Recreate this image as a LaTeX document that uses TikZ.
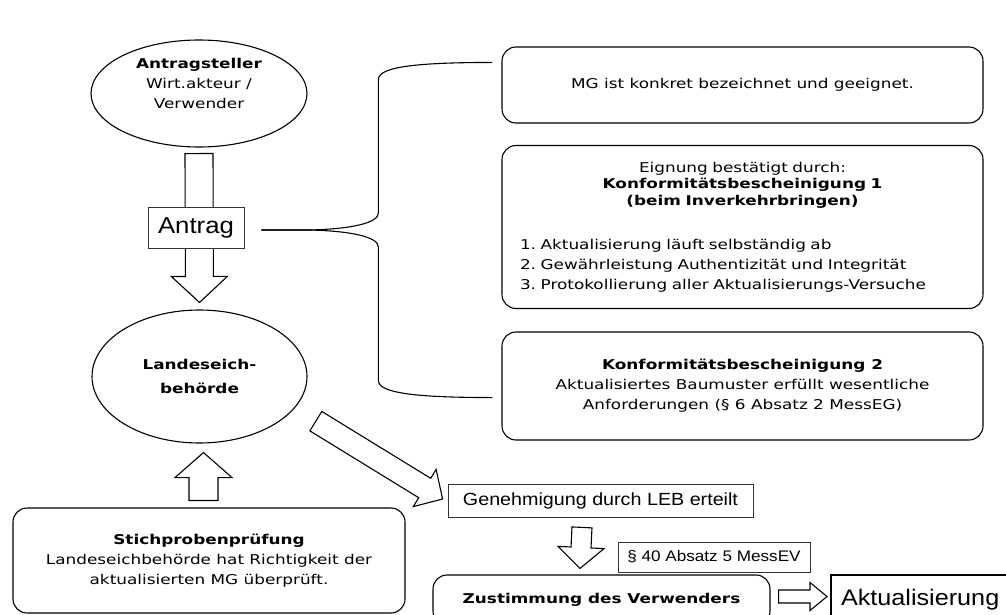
\documentclass[tikz,border=0pt]{standalone}
\usepackage{fontspec}
\setmainfont{DejaVu Sans}[FakeStretch=1.25]
\newfontfamily\arialfont{Liberation Sans}[FakeStretch=1.12]
\usetikzlibrary{calc,shapes.geometric}
\setlength{\parindent}{0pt}
\newcommand{\hollowarrow}[5]{%
	\coordinate (ha) at ($(#2)!#5!(#1)$);
	\draw [blockarrow] ($(#1)!#3!90:(#2)$) -- ($(ha)!#3!90:(#2)$) -- ($(ha)!#4!90:(#2)$) -- (#2)
		-- ($(ha)!#4!-90:(#2)$) -- ($(ha)!#3!-90:(#2)$) -- ($(#1)!#3!-90:(#2)$) -- cycle;
}
\begin{document}
\begin{tikzpicture}[x=1pt,y=-1pt,
	every node/.style={font=\fontsize{13.5}{20}\selectfont},
	bubble/.style={ellipse,draw,line width=1.1pt,inner sep=0pt,align=center},
	roundbox/.style={draw,rounded corners=14pt,line width=1.1pt,minimum width=481pt},
	plainbox/.style={draw=black!80,line width=0.8pt,font=\arialfont\fontsize{17.6}{20}\selectfont},
	blockarrow/.style={draw,line width=1.1pt,fill=white,line join=miter},
	brace/.style={line width=1.1pt}]
	\useasboundingbox (0,0) rectangle (1006,615);
	\node [bubble,minimum width=216pt,minimum height=107pt] (steller) at (199,93.5) {\textbf{Antragsteller}\\Wirt.akteur /\\Verwender\\~};
	\node [bubble,minimum width=215pt,minimum height=133pt,font=\bfseries\fontsize{13.5}{24}\selectfont] (behoerde) at (199.5,376.5) {Landeseich-\\behörde};
	\node [roundbox,minimum height=76pt] (mgbox) at (742.5,85) {MG ist konkret bezeichnet und geeignet.};
	\node [roundbox,minimum height=163pt,text width=445pt,inner xsep=18pt,align=left] (kb1box) at (742.5,227) {{\centering\fontsize{13.5}{16.5}\selectfont Eignung bestätigt durch:\\\textbf{Konformitätsbescheinigung 1}\\\textbf{(beim Inverkehrbringen)}\par}\vspace{24pt}1.\ Aktualisierung läuft selbständig ab\\2.\ Gewährleistung Authentizität und Integrität\\3.\ Protokollierung aller Aktualisierungs-Versuche};
	\node [roundbox,minimum height=108pt,align=center] (kb2box) at (742.5,386) {\textbf{Konformitätsbescheinigung 2}\\Aktualisiertes Baumuster erfüllt wesentliche\\Anforderungen (§ 6 Absatz 2 MessEG)};
	\node [roundbox,minimum width=392pt,minimum height=105pt,align=center] (stich) at (209,560.5) {\textbf{Stichprobenprüfung}\\Landeseichbehörde hat Richtigkeit der\\aktualisierten MG überprüft.};
	\node [plainbox,minimum width=305pt,minimum height=33pt] (geneh) at (600.5,500.5) {Genehmigung durch LEB erteilt};
	\node [plainbox,minimum width=192pt,minimum height=30pt,font=\arialfont\fontsize{15.3}{18}\selectfont] (para) at (714,557) {§ 40 Absatz 5 MessEV};
	\node [roundbox,minimum width=337pt,minimum height=50pt,font=\bfseries\fontsize{13.5}{20}\selectfont] (zust) at (601.5,600) {Zustimmung des Verwenders};
	\node [draw,line width=2pt,minimum height=50pt,text width=172pt,align=left,inner xsep=10pt,anchor=west,font=\arialfont\fontsize{22.5}{24}\selectfont] (akt) at (830,600) {Aktualisierung};

	\coordinate (a1) at ($(steller.south)+(0,6)$);
	\coordinate (a1t) at ($(behoerde.north)+(0,-7)$);
	\hollowarrow{a1}{a1t}{14pt}{28pt}{26pt}
	\node [plainbox,minimum width=96pt,minimum height=41pt,fill=white,font=\arialfont\fontsize{23}{24}\selectfont] (antrag) at (196,227.5) {Antrag};

	\coordinate (a2) at ($(stich.north)+(-5.5,-7)$);
	\coordinate (a2t) at ($(behoerde.south)+(4,9)$);
	\hollowarrow{a2}{a2t}{14.5pt}{28.5pt}{25pt}
	\coordinate (a3) at ($(behoerde.center)!1.266!(behoerde.-21)$);
	\coordinate (a3t) at ($(geneh.west)+(-5,-1.5)$);
	\hollowarrow{a3}{a3t}{11.4pt}{21.8pt}{21pt}
	\coordinate (a4) at ($(geneh.south)+(-18.5,10)$);
	\coordinate (a4t) at ($(zust.north)+(-21.5,-6)$);
	\hollowarrow{a4}{a4t}{10pt}{23pt}{21pt}
	\coordinate (a5) at ($(zust.east)+(8,-3.5)$);
	\coordinate (a5t) at ($(akt.west)+(-3,-3.5)$);
	\hollowarrow{a5}{a5t}{6.5pt}{14pt}{17pt}

	\coordinate (btip) at ($(antrag.east)+(17,2.5)$);
	\coordinate (bx) at ($(btip)+(117,0)$);
	\coordinate (btop) at ($(mgbox.north west)+(-9,16)$);
	\coordinate (bbot) at ($(kb2box.south west)+(-9,-43)$);
	\draw [brace] (btip) -- ++(48,0) .. controls +(42,-1) and +(0,10) .. ($(bx)+(0,-17)$) -- ($(bx |- btop)+(0,17)$) .. controls +(0,-12) and +(-80,0) .. (btop);
	\draw [brace] (btip) -- ++(48,0) .. controls +(42,1) and +(0,-10) .. ($(bx)+(0,17)$) -- ($(bx |- bbot)+(0,-17)$) .. controls +(0,12) and +(-80,0) .. (bbot);
\end{tikzpicture}
\end{document}
